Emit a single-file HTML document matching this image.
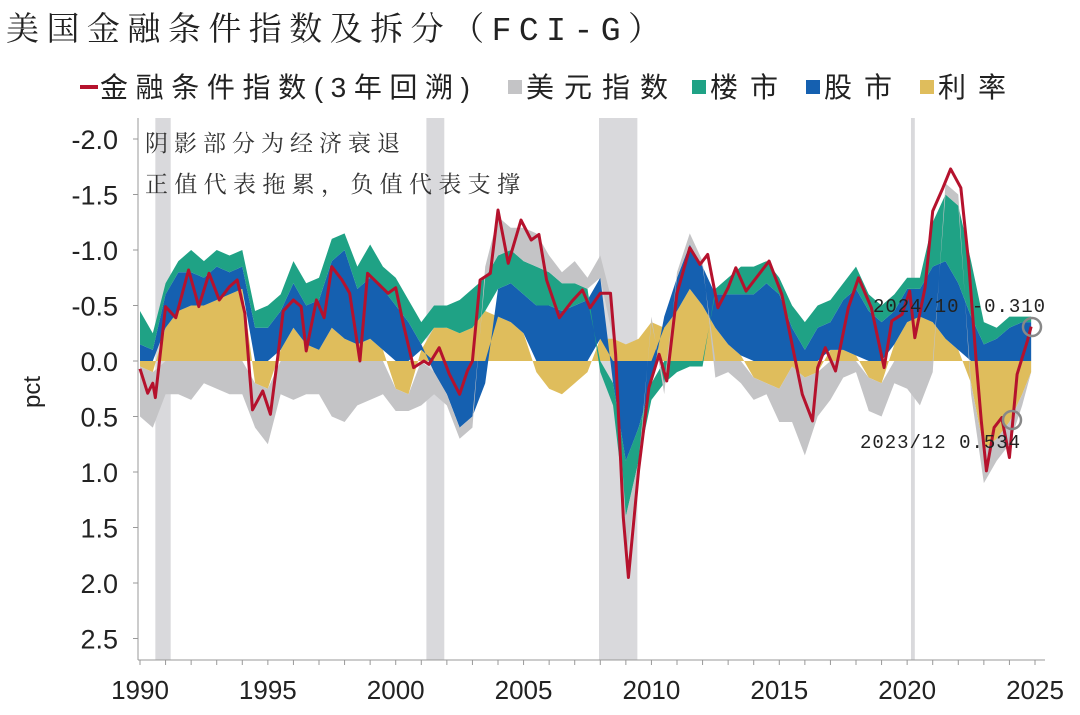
<!DOCTYPE html>
<html><head><meta charset="utf-8"><style>
body{margin:0;background:#fff;width:1080px;height:710px;overflow:hidden;font-family:"Liberation Sans","Noto Sans CJK SC",sans-serif}
svg text{font-family:"Liberation Sans","Noto Sans CJK SC",sans-serif}
</style></head><body>
<svg id="chart" width="1080" height="710">
<text x="6" y="40" font-size="33" fill="#222" textLength="655" lengthAdjust="spacing" style="font-family:'Liberation Mono','Noto Serif CJK SC',serif">美国金融条件指数及拆分（FCI-G）</text>
<g id="legend">
<line x1="80" y1="87" x2="98" y2="87" stroke="#b5122d" stroke-width="4"/>
<text x="100" y="97" font-size="28" fill="#222" textLength="370" lengthAdjust="spacing">金融条件指数(3年回溯)</text>
<rect x="508" y="80" width="14" height="14" fill="#c4c4c6"/>
<text x="526" y="97" font-size="28" fill="#222" textLength="142" lengthAdjust="spacing">美元指数</text>
<rect x="692" y="80" width="14" height="14" fill="#1fa285"/>
<text x="710" y="97" font-size="28" fill="#222" textLength="68" lengthAdjust="spacing">楼市</text>
<rect x="806" y="80" width="14" height="14" fill="#1560b0"/>
<text x="824" y="97" font-size="28" fill="#222" textLength="68" lengthAdjust="spacing">股市</text>
<rect x="920" y="80" width="14" height="14" fill="#dfbd5c"/>
<text x="938" y="97" font-size="28" fill="#222" textLength="68" lengthAdjust="spacing">利率</text>
</g>
<g id="plot"></g>
<text transform="translate(40,392) rotate(-90)" font-size="24" fill="#222" text-anchor="middle">pct</text>
</svg>
<script>
const recessions=[[1990.6,1991.2],[2001.2,2001.9],[2007.95,2009.45],[2020.15,2020.3]];
const yTicks=[-2.0,-1.5,-1.0,-0.5,0.0,0.5,1.0,1.5,2.0,2.5];
const yTickLabels=["-2.0","-1.5","-1.0","-0.5","0.0","0.5","1.0","1.5","2.0","2.5"];
const xTicks=[1990,1995,2000,2005,2010,2015,2020,2025];
const fciDates=[1990.0,1990.3,1990.5,1990.6,1991.0,1991.4,1991.9,1992.3,1992.7,1993.1,1993.5,1993.8,1994.1,1994.4,1994.8,1995.1,1995.4,1995.6,1996.0,1996.3,1996.5,1996.9,1997.2,1997.5,1997.9,1998.2,1998.6,1998.9,1999.3,1999.7,2000.0,2000.3,2000.7,2001.1,2001.3,2001.7,2002.1,2002.5,2002.8,2003.0,2003.3,2003.7,2004.0,2004.4,2004.9,2005.3,2005.6,2005.9,2006.4,2006.9,2007.3,2007.6,2008.0,2008.4,2008.6,2008.9,2009.1,2009.5,2009.9,2010.3,2010.6,2011.0,2011.5,2011.9,2012.2,2012.6,2013.0,2013.3,2013.7,2014.1,2014.6,2015.1,2015.5,2015.9,2016.3,2016.5,2016.8,2017.2,2017.7,2018.1,2018.6,2019.1,2019.4,2019.8,2020.1,2020.3,2020.7,2021.0,2021.4,2021.7,2022.1,2022.4,2022.7,2022.9,2023.1,2023.4,2023.7,2024.0,2024.3,2024.7,2024.85];
const fciValues=[0.07,0.29,0.2,0.33,-0.49,-0.39,-0.82,-0.49,-0.79,-0.55,-0.67,-0.73,-0.43,0.44,0.27,0.48,-0.06,-0.45,-0.55,-0.49,-0.09,-0.55,-0.39,-0.85,-0.73,-0.61,0.0,-0.79,-0.7,-0.61,-0.66,-0.33,0.06,0.0,0.03,-0.12,0.12,0.3,0.09,0.0,-0.73,-0.79,-1.36,-0.88,-1.27,-1.09,-1.14,-0.73,-0.39,-0.54,-0.64,-0.48,-0.61,-0.61,-0.06,1.41,1.95,0.98,0.24,-0.06,0.18,-0.61,-1.02,-0.87,-0.96,-0.48,-0.66,-0.84,-0.63,-0.75,-0.9,-0.6,-0.15,0.3,0.54,0.06,-0.12,0.09,-0.48,-0.75,-0.48,0.06,-0.36,-0.42,-0.63,-0.21,-0.66,-1.35,-1.56,-1.73,-1.56,-0.9,0.0,0.54,0.99,0.6,0.51,0.87,0.12,-0.18,-0.31];
const compDates=[1990.0,1990.5,1991.0,1991.5,1992.0,1992.5,1993.0,1993.5,1994.0,1994.5,1995.0,1995.5,1996.0,1996.5,1997.0,1997.5,1998.0,1998.5,1999.0,1999.5,2000.0,2000.5,2001.0,2001.5,2002.0,2002.5,2003.0,2003.5,2004.0,2004.5,2005.0,2005.5,2006.0,2006.5,2007.0,2007.5,2008.0,2008.5,2009.0,2009.5,2010.0,2010.5,2011.0,2011.5,2012.0,2012.5,2013.0,2013.5,2014.0,2014.5,2015.0,2015.5,2016.0,2016.5,2017.0,2017.5,2018.0,2018.5,2019.0,2019.5,2020.0,2020.5,2021.0,2021.5,2022.0,2022.5,2023.0,2023.5,2024.0,2024.5,2024.85];
const rates=[0.05,0.1,-0.3,-0.45,-0.5,-0.5,-0.55,-0.6,-0.65,0.2,0.25,-0.1,-0.3,-0.15,-0.1,-0.3,-0.2,-0.15,-0.2,-0.1,0.25,0.3,-0.1,-0.3,-0.3,-0.25,-0.3,-0.45,-0.4,-0.35,-0.25,0.1,0.25,0.3,0.2,0.1,-0.2,-0.2,-0.15,-0.2,-0.35,-0.3,-0.45,-0.65,-0.5,-0.3,-0.15,-0.05,0.15,0.2,0.25,0.05,0.15,0.1,-0.1,-0.1,-0.05,0.15,0.2,-0.15,-0.35,-0.4,-0.35,-0.2,-0.1,0.2,0.8,0.7,0.55,0.3,0.1];
const stocks=[-0.15,-0.1,-0.3,-0.35,-0.3,-0.25,-0.3,-0.2,-0.2,-0.3,-0.3,-0.35,-0.4,-0.35,-0.45,-0.6,-0.8,-0.5,-0.55,-0.55,-0.5,-0.35,-0.05,0.1,0.3,0.6,0.5,0.2,-0.25,-0.35,-0.35,-0.5,-0.5,-0.45,-0.5,-0.55,-0.55,0.2,0.9,0.6,0.2,-0.1,-0.3,-0.4,-0.35,-0.3,-0.45,-0.55,-0.6,-0.7,-0.6,-0.3,-0.1,-0.3,-0.25,-0.45,-0.6,-0.45,-0.35,-0.3,-0.3,-0.25,-0.5,-0.7,-0.6,-0.4,-0.15,-0.2,-0.3,-0.35,-0.35];
const housing=[-0.3,-0.15,-0.1,-0.1,-0.2,-0.15,-0.15,-0.15,-0.15,-0.15,-0.2,-0.15,-0.2,-0.2,-0.2,-0.2,-0.15,-0.2,-0.3,-0.2,-0.25,-0.2,-0.2,-0.2,-0.2,-0.3,-0.35,-0.3,-0.3,-0.3,-0.3,-0.35,-0.3,-0.25,-0.2,-0.1,0.1,0.2,0.5,0.3,0.15,0.2,0.1,0.05,0.05,-0.05,-0.15,-0.25,-0.25,-0.2,-0.15,-0.2,-0.25,-0.2,-0.2,-0.15,-0.2,-0.15,-0.15,-0.15,-0.1,-0.1,-0.4,-0.6,-0.7,-0.5,-0.2,-0.1,-0.1,-0.05,-0.05];
const dollar=[0.45,0.5,0.3,0.3,0.35,0.2,0.25,0.3,0.3,0.4,0.5,0.3,0.35,0.3,0.3,0.5,0.55,0.4,0.35,0.3,0.2,0.15,0.4,0.2,0.1,0.1,0.1,-0.1,-0.35,-0.2,-0.3,-0.3,-0.15,-0.1,-0.2,-0.1,-0.2,-0.3,0.4,0.1,-0.05,0.1,-0.05,-0.1,-0.05,0.15,0.1,0.2,0.2,0.1,0.3,0.5,0.7,0.4,0.35,0.15,0.1,0.3,0.3,0.2,0.25,0.4,0.1,-0.1,-0.1,0.1,0.3,0.2,0.2,0.1,0.0];

const NS="http://www.w3.org/2000/svg";
const plot=document.getElementById('plot');
const X0=140,X1=1035,Y0=361,PY=111;
function xs(t){return X0+(t-1990)*(X1-X0)/35;}
function ys(v){return Y0+v*PY;}
function mk(tag,attrs){const e=document.createElementNS(NS,tag);for(const k in attrs)e.setAttribute(k,attrs[k]);plot.appendChild(e);return e;}

recessions.forEach((r,i)=>{
  const e=mk('rect',{x:xs(r[0]),y:118,width:xs(r[1])-xs(r[0]),height:542,fill:'#d9d9dc'});
  
  
});

const series=[[rates,'#dfbd5c','rates-area'],[stocks,'#1560b0','stocks-area'],[housing,'#1fa285','housing-area'],[dollar,'#c4c4c6','dollar-area']];
const posAcc=compDates.map(()=>0), negAcc=compDates.map(()=>0);
const layers=[];
series.forEach(([vals,col,name])=>{
  const lo=[],hi=[];
  vals.forEach((v,i)=>{
    if(v>=0){lo.push(posAcc[i]);posAcc[i]+=v;hi.push(posAcc[i]);}
    else{lo.push(negAcc[i]);negAcc[i]+=v;hi.push(negAcc[i]);}
  });
  layers.push([lo,hi,col,name]);
});
layers.forEach(([lo,hi,col,name])=>{
  let pts=compDates.map((t,i)=>xs(t)+','+ys(hi[i]));
  for(let i=compDates.length-1;i>=0;i--)pts.push(xs(compDates[i])+','+ys(lo[i]));
  const e=mk('polygon',{points:pts.join(' '),fill:col});
  
  
});

const line=mk('polyline',{points:fciDates.map((t,i)=>xs(t)+','+ys(fciValues[i])).join(' '),fill:'none',stroke:'#b5122d','stroke-width':3,'stroke-linejoin':'round'});



const ax=mk('line',{x1:138,y1:118,x2:138,y2:660,stroke:'#999','stroke-width':1});


const bx=mk('line',{x1:138,y1:660,x2:1045,y2:660,stroke:'#999','stroke-width':1});


yTicks.forEach((v,i)=>{
  const t=mk('text',{x:118,y:ys(v)+10,'font-size':27,'text-anchor':'end',fill:'#222'});
  t.textContent=yTickLabels[i];
  
  
  const tk=mk('line',{x1:133,y1:ys(v),x2:138,y2:ys(v),stroke:'#999'});
  
  
});
for(let yr=1990;yr<=2025;yr++){
  const tk=mk('line',{x1:xs(yr),y1:660,x2:xs(yr),y2:665,stroke:'#999'});
  
  
}
xTicks.forEach(yr=>{
  const t=mk('text',{x:xs(yr),y:699,'font-size':26,'text-anchor':'middle',fill:'#222'});
  t.textContent=String(yr);
  
  
});
[["阴影部分为经济衰退",151,255],["正值代表拖累，负值代表支撑",192,375]].forEach(([s,y,w])=>{
  const t=mk('text',{x:145,y:y,'font-size':23,fill:'#333',textLength:w,lengthAdjust:'spacing',style:"font-family:'Noto Serif CJK SC',serif"});
  t.textContent=s;
  
  
});
[["2024/10 -0.310",873,312,172],["2023/12 0.534",860,448,160]].forEach(([s,x,y,w])=>{
  const t=mk('text',{x:x,y:y,'font-size':19,fill:'#222',textLength:w,lengthAdjust:'spacing',style:"font-family:'Liberation Mono',monospace"});
  t.textContent=s;
  
  
});
[[1032,327],[1012,420]].forEach(([x,y])=>{
  const c=mk('circle',{cx:x,cy:y,r:9,fill:'none',stroke:'#888','stroke-width':2.5});
  
  
});
</script>
</body></html>
